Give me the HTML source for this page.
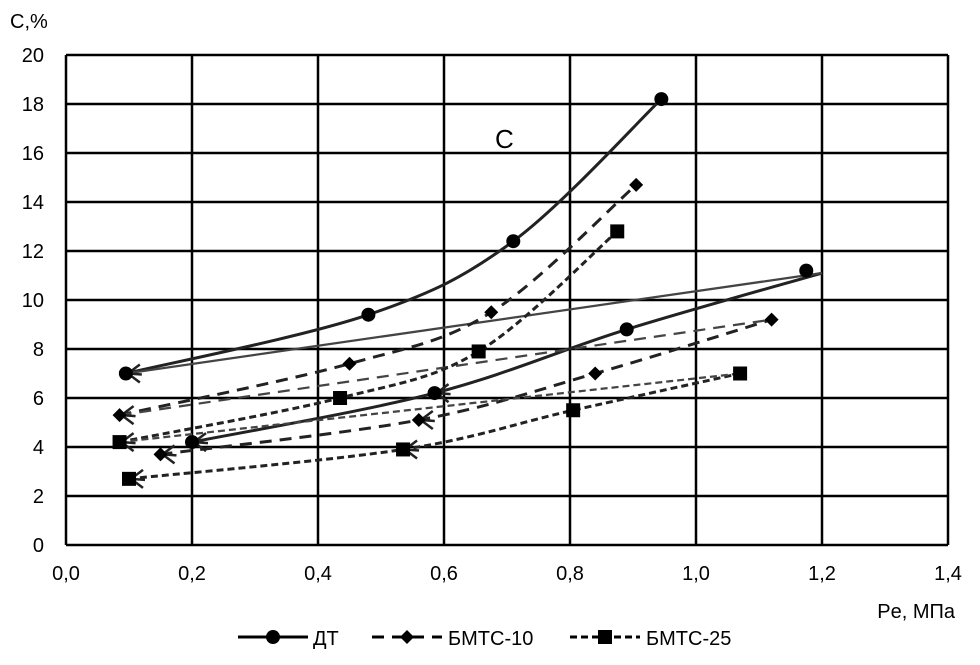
<!DOCTYPE html>
<html><head><meta charset="utf-8"><style>
body{margin:0;background:#fff;}
svg{display:block;font-family:"Liberation Sans","DejaVu Sans",sans-serif;}
</style></head><body>
<svg id="chart" width="980" height="665"></svg>
<script>
const xTicks=[0,0.2,0.4,0.6,0.8,1.0,1.2,1.4];
const yTicks=[0,2,4,6,8,10,12,14,16,18,20];
const dtUpperX=[0.095,0.48,0.71,0.945];
const dtUpperY=[7.0,9.4,12.4,18.2];
const dtLowerX=[0.2,0.585,0.89,1.2];
const dtLowerY=[4.2,6.2,8.8,11.1];
const dtExtraX=[1.175];
const dtExtraY=[11.2];
const b10UpperX=[0.085,0.45,0.675,0.905];
const b10UpperY=[5.3,7.4,9.5,14.7];
const b10LowerX=[0.15,0.56,0.84,1.12];
const b10LowerY=[3.7,5.1,7.0,9.2];
const b25UpperX=[0.085,0.435,0.655,0.875];
const b25UpperY=[4.2,6.0,7.9,12.8];
const b25LowerX=[0.1,0.535,0.805,1.07];
const b25LowerY=[2.7,3.9,5.5,7.0];

const NS="http://www.w3.org/2000/svg";
const svg=document.getElementById('chart');
const X=v=>66+v*630;
const Y=v=>545-v*24.5;
function el(t,a,p){const e=document.createElementNS(NS,t);for(const k in a)e.setAttribute(k,a[k]);(p||svg).appendChild(e);return e;}
function smooth(xs,ys){const p=xs.map((x,i)=>[X(x),Y(ys[i])]);let d='M'+p[0][0]+','+p[0][1];
for(let i=0;i<p.length-1;i++){const p0=p[i-1]||p[i],p1=p[i],p2=p[i+1],p3=p[i+2]||p2;
d+=' C'+(p1[0]+(p2[0]-p0[0])/6)+','+(p1[1]+(p2[1]-p0[1])/6)+' '+(p2[0]-(p3[0]-p1[0])/6)+','+(p2[1]-(p3[1]-p1[1])/6)+' '+p2[0]+','+p2[1];}return d;}
xTicks.forEach(t=>{const l=el('line',{x1:X(t),x2:X(t),y1:Y(0),y2:Y(20),stroke:'#000','stroke-width':2.5});

const tx=el('text',{x:X(t),y:580,'text-anchor':'middle','font-size':20});tx.textContent=t.toFixed(1).replace('.',',');
});
yTicks.forEach(t=>{const l=el('line',{x1:X(0),x2:X(1.4),y1:Y(t),y2:Y(t),stroke:'#000','stroke-width':2.5});

const tx=el('text',{x:44,y:Y(t)+7,'text-anchor':'end','font-size':20});tx.textContent=t;
});
function arrow(x,y,g){el('path',{d:`M${x+14},${y-9}L${x+2},${y}L${x+14},${y+9}M${x+2},${y}L${x+16},${y+1}`,fill:'none',stroke:'#222','stroke-width':2.5},g);}
function series(ux,uy,lx,ly,dash,w,marker,name,markLast){
 const g=el('g',{});
 el('path',{d:smooth(ux,uy),fill:'none',stroke:'#222','stroke-width':w,'stroke-dasharray':dash},g);
 el('path',{d:smooth(lx,ly),fill:'none',stroke:'#222','stroke-width':w,'stroke-dasharray':dash},g);
 el('line',{x1:X(ux[0]),y1:Y(uy[0]),x2:X(lx[lx.length-1]),y2:Y(ly[ly.length-1]),stroke:'#444','stroke-width':w*0.75,'stroke-dasharray':dash},g);
 arrow(X(ux[0]),Y(uy[0]),g);arrow(X(lx[0]),Y(ly[0]),g);arrow(X(lx[1]),Y(ly[1]),g);
 const n=markLast?lx.length:lx.length-1;
 ux.concat(lx.slice(0,n)).forEach((x,i)=>{const y=i<ux.length?uy[i]:ly[i-ux.length];const m=marker(X(x),Y(y),g);
  });
}
const circ=(x,y,g)=>el('circle',{cx:x,cy:y,r:7,fill:'#000'},g);
const diam=(x,y,g)=>el('path',{d:`M${x},${y-7}L${x+7},${y}L${x},${y+7}L${x-7},${y}Z`,fill:'#000'},g);
const sq=(x,y,g)=>el('rect',{x:x-7,y:y-7,width:14,height:14,fill:'#000'},g);
series(dtUpperX,dtUpperY,dtLowerX,dtLowerY,'none',3,circ,'dt',false);
dtExtraX.forEach((x,i)=>{const c=circ(X(x),Y(dtExtraY[i]));});
series(b10UpperX,b10UpperY,b10LowerX,b10LowerY,'12 8',3,diam,'bmts10',true);
series(b25UpperX,b25UpperY,b25LowerX,b25LowerY,'7 4',3,sq,'bmts25',true);
function txt(x,y,s,fs,name,anchor){const t=el('text',{x:x,y:y,'font-size':fs,'text-anchor':anchor||'start'});t.textContent=s;}
txt(10,28,'C,%',20,'y-axis-title');
txt(955,618,'Pe, МПа',20,'x-axis-title','end');
txt(495,148,'C',26,'chart-annotation');
const lg=el('g',{});
el('line',{x1:238,x2:308,y1:637,y2:637,stroke:'#000','stroke-width':3},lg);circ(273,637,lg);
txt(313,645,'ДТ',20,'legend-entry-dt');
el('line',{x1:372,x2:442,y1:637,y2:637,stroke:'#000','stroke-width':3,'stroke-dasharray':'12 8'},lg);diam(407,637,lg);
txt(448,645,'БМТС-10',20,'legend-entry-bmts10');
el('line',{x1:570,x2:640,y1:637,y2:637,stroke:'#000','stroke-width':3,'stroke-dasharray':'7 4'},lg);sq(605,637,lg);
txt(646,645,'БМТС-25',20,'legend-entry-bmts25');
</script>
</body></html>
